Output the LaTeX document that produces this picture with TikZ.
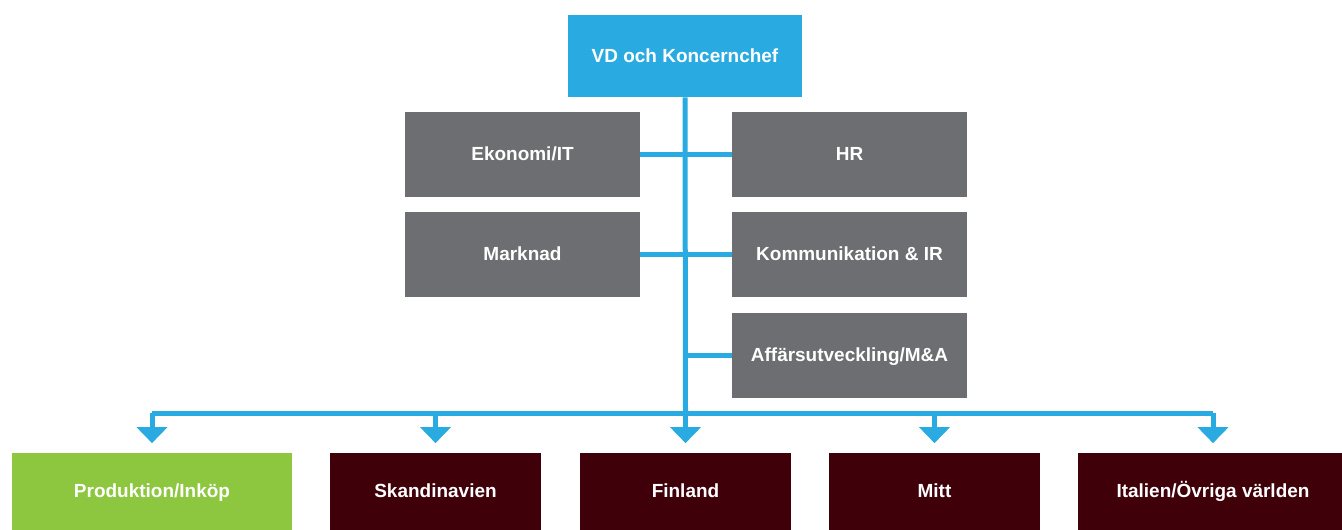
\documentclass[tikz,border=0pt]{standalone}
\usepackage{fontspec}
\setmainfont{Liberation Sans}
\usetikzlibrary{arrows.meta}

\definecolor{orgblue}{RGB}{41,171,226}
\definecolor{orggray}{RGB}{109,110,113}
\definecolor{orgred}{RGB}{63,0,9}
\definecolor{orggreen}{RGB}{141,198,63}

\begin{document}
\begin{tikzpicture}[x=0.02cm, y=-0.02cm]
    \tikzstyle{box} = [rectangle, inner sep=0pt, text=white, font=\bfseries\fontsize{10.8}{13}\selectfont, text centered, text height=0.72em, text depth=0pt]
    \tikzstyle{top} = [box, fill=orgblue, minimum width=234*0.02cm, minimum height=82*0.02cm]
    \tikzstyle{staff} = [box, fill=orggray, minimum width=235*0.02cm, minimum height=85*0.02cm]
    \tikzstyle{unit} = [box, fill=orgred, minimum width=211*0.02cm, minimum height=77*0.02cm]
    \tikzstyle{line} = [draw=orgblue, line width=5*0.02cm, line join=miter]
    \tikzstyle{arrow} = [line, -{Triangle[width=30*0.02cm, length=16*0.02cm]}, shorten >=9*0.02cm]

    \useasboundingbox (0,0) rectangle (1342,529);

    \node (ceo) [top] at (685,56) {VD och Koncernchef};

    \node (ekonomi) [staff] at (522.5,154.5) {Ekonomi/IT};
    \node (hr) [staff] at (849.5,154.5) {HR};
    \node (marknad) [staff] at (522.5,254.5) {Marknad};
    \node (komm) [staff] at (849.5,254.5) {Kommunikation \& IR};
    \node (affar) [staff] at (849.5,355.5) {Affärsutveckling/M\&A};

    \node (prod) [unit, fill=orggreen, minimum width=280*0.02cm] at (152,491) {Produktion/Inköp};
    \node (skand) [unit] at (435.5,491) {Skandinavien};
    \node (finland) [unit] at (685.5,491) {Finland};
    \node (mitt) [unit] at (934.5,491) {Mitt};
    \node (italien) [unit, minimum width=270*0.02cm] at (1213,491) {Italien/Övriga världen};

    \coordinate (bus) at (685.5,413);

    % trunk and staff branches
    \draw [line] (ceo.south) -- (bus);
    \draw [line] (ekonomi.east) -- (hr.west);
    \draw [line] (marknad.east) -- (komm.west);
    \draw [line] (ceo.south |- affar.west) -- (affar.west);

    % business units
    \draw [line] (prod.north |- bus) -- (italien.north |- bus);
    \foreach \n in {prod, skand, finland, mitt, italien}
        \draw [arrow] (\n.north |- bus) -- (\n.north);
\end{tikzpicture}
\end{document}
